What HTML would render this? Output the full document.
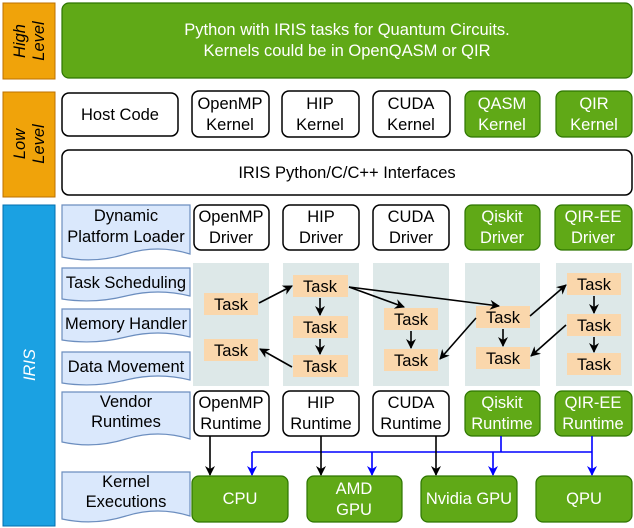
<!DOCTYPE html>
<html><head><meta charset="utf-8"><style>
html,body{margin:0;padding:0;background:#fff}
svg{display:block}
text{font-family:"Liberation Sans",sans-serif;font-size:16.5px;text-anchor:middle}
.w{fill:#fff;stroke:#000;stroke-width:1.5}
.g{fill:#60a917;stroke:#2d7600;stroke-width:1.2}
.gt{fill:#fff}
.d{fill:#dae8fc;stroke:#6c8ebf;stroke-width:1.2}
.c{fill:#dde8e8}
.t{fill:#fad7ac}
.a{stroke:#000;stroke-width:1.6;fill:none;marker-end:url(#ah)}
.b{stroke:#00f;stroke-width:1.6;fill:none}
.bb{stroke:#00f;stroke-width:1.6;fill:none;marker-end:url(#bh)}
</style></head><body>
<svg width="634" height="528" viewBox="0 0 634 528" xmlns="http://www.w3.org/2000/svg">
<defs>
<marker id="ah" markerWidth="10" markerHeight="10" refX="9" refY="5" orient="auto" markerUnits="userSpaceOnUse"><path d="M0,0 L10,5 L0,10 L3,5z" fill="#000"/></marker>
<marker id="bh" markerWidth="10" markerHeight="10" refX="9" refY="5" orient="auto" markerUnits="userSpaceOnUse"><path d="M0,0 L10,5 L0,10 L3,5z" fill="#00f"/></marker>
</defs>
<rect x="3" y="3" width="52" height="76" fill="#f0a30a" stroke="#bd7000" stroke-width="1"/>
<text transform="translate(29,41) rotate(-90)" font-style="italic" fill="#000"><tspan x="0" y="-4">High</tspan><tspan x="0" y="15">Level</tspan></text>
<rect x="3" y="92" width="52" height="105" fill="#f0a30a" stroke="#bd7000" stroke-width="1"/>
<text transform="translate(29,144) rotate(-90)" font-style="italic" fill="#000"><tspan x="0" y="-4">Low</tspan><tspan x="0" y="15">Level</tspan></text>
<rect x="3" y="205" width="52" height="321" fill="#1ba1e2" stroke="#006eaf" stroke-width="1"/>
<text transform="translate(29,365) rotate(-90)" font-style="italic" fill="#fff" y="6">IRIS</text>

<rect x="62" y="3" width="570" height="75" rx="7" class="g"/>
<text x="347" y="35" class="gt">Python with IRIS tasks for Quantum Circuits.</text>
<text x="347" y="56" class="gt">Kernels could be in OpenQASM or QIR</text>

<rect x="62" y="93" width="116" height="43" rx="7" class="w"/><text x="120" y="120">Host Code</text>
<rect x="192" y="91" width="77" height="46" rx="7" class="w"/><text x="230" y="109">OpenMP</text><text x="230" y="130">Kernel</text>
<rect x="282" y="91" width="77" height="46" rx="7" class="w"/><text x="320" y="109">HIP</text><text x="320" y="130">Kernel</text>
<rect x="373" y="91" width="77" height="46" rx="7" class="w"/><text x="411" y="109">CUDA</text><text x="411" y="130">Kernel</text>
<rect x="465" y="91" width="75" height="46" rx="7" class="g"/><text x="502" y="109" class="gt">QASM</text><text x="502" y="130" class="gt">Kernel</text>
<rect x="556" y="91" width="76" height="46" rx="7" class="g"/><text x="594" y="109" class="gt">QIR</text><text x="594" y="130" class="gt">Kernel</text>
<rect x="62" y="150" width="570" height="45" rx="7" class="w"/><text x="347" y="178">IRIS Python/C/C++ Interfaces</text>

<path class="d" d="M62 205H190V254Q158 244 126 254T62 257Z"/><text x="126" y="221">Dynamic</text><text x="126" y="242">Platform Loader</text>
<path class="d" d="M62 268H190V296Q158 288 126 296T62 299Z"/><text x="126" y="288">Task Scheduling</text>
<path class="d" d="M62 309H190V337Q158 329 126 337T62 340Z"/><text x="126" y="329">Memory Handler</text>
<path class="d" d="M62 352H190V380Q158 372 126 380T62 383Z"/><text x="126" y="372">Data Movement</text>
<path class="d" d="M62 392H190V439Q158 429 126 439T62 442Z"/><text x="126" y="407">Vendor</text><text x="126" y="427">Runtimes</text>
<path class="d" d="M62 472H190V516Q158 506 126 516T62 519Z"/><text x="126" y="487">Kernel</text><text x="126" y="507">Executions</text>

<rect x="194" y="205" width="75" height="45" rx="7" class="w"/><text x="231" y="222">OpenMP</text><text x="231" y="243">Driver</text>
<rect x="283" y="205" width="76" height="45" rx="7" class="w"/><text x="321" y="222">HIP</text><text x="321" y="243">Driver</text>
<rect x="373" y="205" width="76" height="45" rx="7" class="w"/><text x="411" y="222">CUDA</text><text x="411" y="243">Driver</text>
<rect x="465" y="205" width="75" height="45" rx="7" class="g"/><text x="502" y="222" class="gt">Qiskit</text><text x="502" y="243" class="gt">Driver</text>
<rect x="555" y="205" width="77" height="45" rx="7" class="g"/><text x="593" y="222" class="gt">QIR-EE</text><text x="593" y="243" class="gt">Driver</text>

<rect x="193" y="263" width="76" height="123" class="c"/>
<rect x="283" y="263" width="76" height="123" class="c"/>
<rect x="373" y="263" width="76" height="123" class="c"/>
<rect x="465" y="263" width="75" height="123" class="c"/>
<rect x="556" y="263" width="76" height="123" class="c"/>

<rect x="204" y="293" width="54" height="22" class="t"/><text x="231" y="310">Task</text>
<rect x="204" y="339" width="54" height="22" class="t"/><text x="231" y="356">Task</text>
<rect x="293" y="275" width="55" height="22" class="t"/><text x="320" y="292">Task</text>
<rect x="293" y="316" width="55" height="22" class="t"/><text x="320" y="333">Task</text>
<rect x="293" y="355" width="55" height="22" class="t"/><text x="320" y="372">Task</text>
<rect x="384" y="308" width="54" height="22" class="t"/><text x="411" y="325">Task</text>
<rect x="384" y="349" width="54" height="22" class="t"/><text x="411" y="366">Task</text>
<rect x="476" y="306" width="54" height="22" class="t"/><text x="503" y="323">Task</text>
<rect x="476" y="347" width="54" height="22" class="t"/><text x="503" y="364">Task</text>
<rect x="567" y="273" width="54" height="22" class="t"/><text x="594" y="290">Task</text>
<rect x="567" y="314" width="54" height="22" class="t"/><text x="594" y="331">Task</text>
<rect x="567" y="353" width="54" height="22" class="t"/><text x="594" y="370">Task</text>

<path class="a" d="M259 303L292 286"/>
<path class="a" d="M320 298V315"/>
<path class="a" d="M320 339V354"/>
<path class="a" d="M292 367L260 349"/>
<path class="a" d="M349 287L404 307"/>
<path class="a" d="M349 287L499 306"/>
<path class="a" d="M411 331V348"/>
<path class="a" d="M476 318L440 359"/>
<path class="a" d="M503 329V346"/>
<path class="a" d="M530 316L566 285"/>
<path class="a" d="M566 325L531 356"/>
<path class="a" d="M594 296V313"/>
<path class="a" d="M594 337V352"/>

<rect x="194" y="391" width="75" height="45" rx="7" class="w"/><text x="231" y="408">OpenMP</text><text x="231" y="429">Runtime</text>
<rect x="283" y="391" width="76" height="45" rx="7" class="w"/><text x="321" y="408">HIP</text><text x="321" y="429">Runtime</text>
<rect x="373" y="391" width="76" height="45" rx="7" class="w"/><text x="411" y="408">CUDA</text><text x="411" y="429">Runtime</text>
<rect x="465" y="391" width="75" height="45" rx="7" class="g"/><text x="502" y="408" class="gt">Qiskit</text><text x="502" y="429" class="gt">Runtime</text>
<rect x="555" y="391" width="77" height="45" rx="7" class="g"/><text x="593" y="408" class="gt">QIR-EE</text><text x="593" y="429" class="gt">Runtime</text>

<path class="b" d="M501 436V452M592 436V452M252 452H592"/>
<path class="bb" d="M252 452V475"/>
<path class="bb" d="M372 452V475"/>
<path class="bb" d="M493 452V475"/>
<path class="bb" d="M592 452V475"/>
<path class="a" d="M210 436V475"/>
<path class="a" d="M321 436V475"/>
<path class="a" d="M436 436V475"/>

<rect x="192" y="476" width="96" height="46" rx="7" class="g"/><text x="240" y="504" class="gt">CPU</text>
<rect x="307" y="476" width="95" height="46" rx="7" class="g"/><text x="354" y="494" class="gt">AMD</text><text x="354" y="515" class="gt">GPU</text>
<rect x="421" y="476" width="96" height="46" rx="7" class="g"/><text x="469" y="504" class="gt">Nvidia GPU</text>
<rect x="536" y="476" width="96" height="46" rx="7" class="g"/><text x="584" y="504" class="gt">QPU</text>
</svg>
</body></html>
